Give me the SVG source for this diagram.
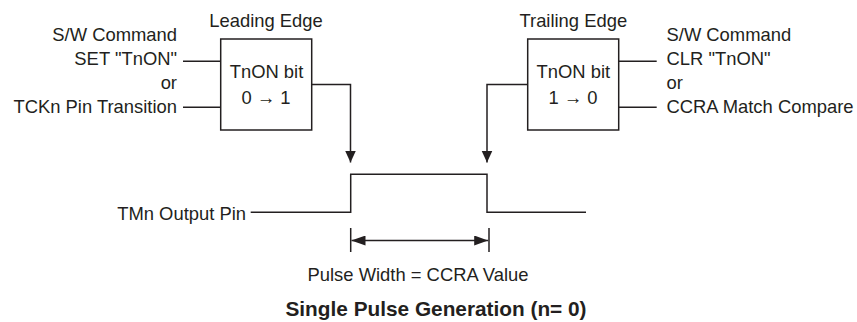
<svg xmlns="http://www.w3.org/2000/svg" width="857" height="322" viewBox="0 0 857 322">
<defs>
<style>
text{font-family:"Liberation Sans",Arial,sans-serif;font-size:18.4px;fill:#231f20}
.b{font-weight:bold;font-size:20.8px}
.m{text-anchor:middle}
.e{text-anchor:end}
.ln{fill:none;stroke:#231f20;stroke-width:1.5}
.box{fill:#fff;stroke:#231f20;stroke-width:1.5}
</style>
<marker id="ah" viewBox="0 0 12 12" refX="12" refY="6" markerWidth="12" markerHeight="12" markerUnits="userSpaceOnUse" orient="auto"><path d="M0,0.5 L12,6 L0,11.5 Z" fill="#231f20"/></marker>
<marker id="dh" viewBox="0 0 14 10" refX="14" refY="5" markerWidth="14" markerHeight="10" markerUnits="userSpaceOnUse" orient="auto-start-reverse"><path d="M0,0 L14,5 L0,10 Z" fill="#231f20"/></marker>
</defs>
<rect width="857" height="322" fill="#fff"/>
<g id="leading-inputs">
<text class="e" x="177" y="41">S/W Command</text>
<text class="e" x="177" y="65">SET "TnON"</text>
<text class="e" x="177" y="89">or</text>
<text class="e" x="177" y="113">TCKn Pin Transition</text>
</g>
<g id="leading-box">
<text class="m" x="266" y="27">Leading Edge</text>
<rect class="box" x="220.7" y="39" width="91" height="91"/>
<text class="m" x="266.5" y="78">TnON bit</text>
<text class="m" x="266" y="104">0 → 1</text>
</g>
<g id="trailing-box">
<text class="m" x="573.3" y="27">Trailing Edge</text>
<rect class="box" x="527.7" y="39" width="91" height="91"/>
<text class="m" x="573.3" y="78">TnON bit</text>
<text class="m" x="573" y="104">1 → 0</text>
</g>
<g id="trailing-inputs">
<text x="666.5" y="41">S/W Command</text>
<text x="666.5" y="65">CLR "TnON"</text>
<text x="666.5" y="89">or</text>
<text x="666.5" y="113">CCRA Match Compare</text>
</g>
<g id="output-pin">
<text class="e" x="246" y="220">TMn Output Pin</text>
</g>
<g id="pulse-width">
<text class="m" x="418" y="281">Pulse Width = CCRA Value</text>
</g>
<g id="title">
<text class="b m" x="436" y="316">Single Pulse Generation (n= 0)</text>
</g>
<g id="connectors">
<path class="ln" d="M183,61.3 H220.7 M183,107.3 H220.7"/>
<path class="ln" d="M619,61.3 H656.7 M619,107.3 H656.7"/>
<path class="ln" d="M311.7,84.5 H350.5 V162.5" marker-end="url(#ah)"/>
<path class="ln" d="M527.7,84.5 H487 V162.5" marker-end="url(#ah)"/>
<path class="ln" d="M250.7,212.3 H350.7 V174.3 H487 V212.3 H586"/>
<path class="ln" d="M350.7,228 V252 M489,228 V252"/>
<path class="ln" d="M351.5,240.5 H488.2" marker-start="url(#dh)" marker-end="url(#dh)"/>
</g>
</svg>
